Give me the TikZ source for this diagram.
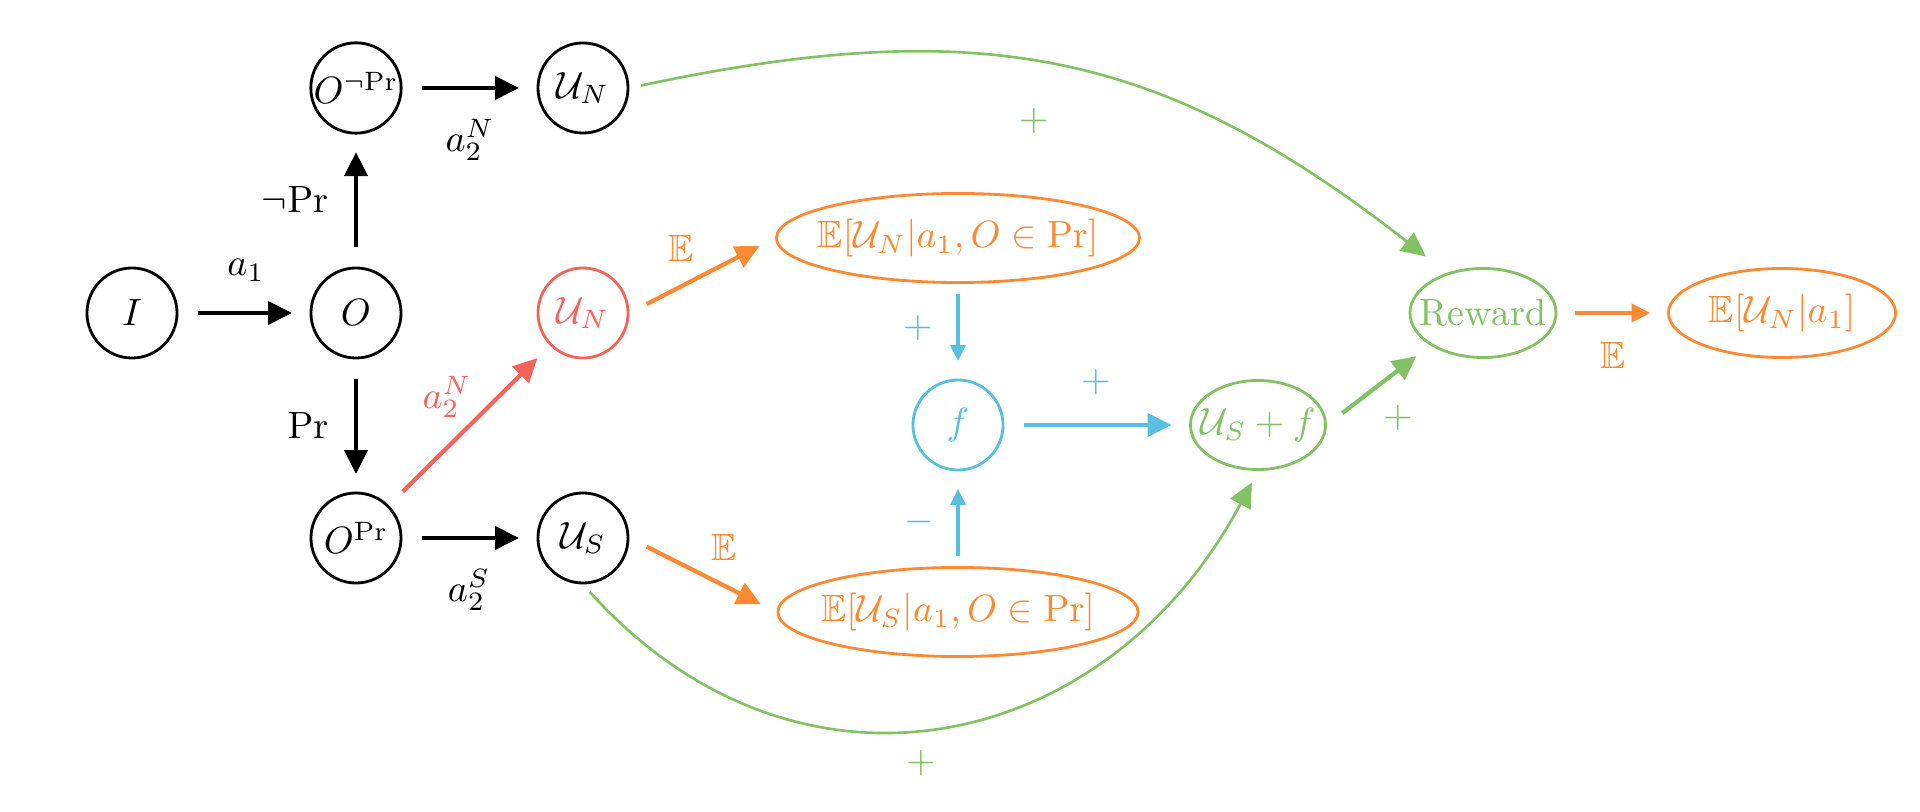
\documentclass[tikz,border=0pt]{standalone}
\usepackage{amssymb}
\usepackage{graphicx}
\usetikzlibrary{arrows.meta,shapes.geometric}
\definecolor{cred}{RGB}{245,100,90}
\definecolor{corange}{RGB}{253,138,50}
\definecolor{ccyan}{RGB}{88,192,222}
\definecolor{cgreen}{RGB}{130,193,100}
\newcommand{\bigtxt}[1]{\scalebox{1.08}{#1}}
\begin{document}
\begin{tikzpicture}[x=0.01cm,y=0.01cm,
  cnode/.style={circle,draw,thick,minimum size=0.9cm,inner sep=0pt},
  enode/.style={ellipse,draw,thick,inner xsep=-0.12cm,inner ysep=0pt,minimum height=0.89cm},
  bigarr/.style={-{Triangle[length=6.8pt,width=6.5pt]},line width=1.2pt,shorten <=5.5pt,shorten >=5pt},
  smallarr/.style={-{Triangle[length=4.5pt,width=4.3pt]},line width=0.9pt,shorten <=3pt,shorten >=5pt},
  curvearr/.style={-{Triangle[length=7pt,width=6.5pt]},line width=0.75pt},
  lab/.style={inner sep=0pt}
]
\useasboundingbox (0,0) rectangle (1920,812);
\node[cnode] (I) at (132,499) {\bigtxt{$I$}};
\node[cnode] (O) at (356,499) {\bigtxt{$O$}};
\node[cnode] (ONP) at (356,724) {\bigtxt{$O^{\neg\mathrm{Pr}}$}};
\node[cnode] (UNt) at (583,724) {\bigtxt{$\mathcal{U}_N$}};
\node[cnode,cred] (UNr) at (583,499) {\bigtxt{$\mathcal{U}_N$}};
\node[cnode] (OP) at (356,274) {\bigtxt{$O^{\mathrm{Pr}}$}};
\node[cnode] (US) at (583,274) {\bigtxt{$\mathcal{U}_S$}};
\node[enode,corange,minimum width=3.6cm] (EN) at (958,574) {\bigtxt{$\mathbb{E}[\mathcal{U}_N|a_1,O\in\mathrm{Pr}]$}};
\node[enode,corange,minimum width=3.6cm] (ES) at (958,200) {\bigtxt{$\mathbb{E}[\mathcal{U}_S|a_1,O\in\mathrm{Pr}]$}};
\node[cnode,ccyan] (f) at (958,387) {\bigtxt{$f$}};
\node[enode,cgreen,minimum width=1.35cm] (USf) at (1258,387) {\bigtxt{$\mathcal{U}_S+f$}};
\node[enode,cgreen,minimum width=1.46cm] (Rew) at (1483,499) {\bigtxt{Reward}};
\node[enode,corange,minimum width=2.27cm] (EA) at (1782,499) {\bigtxt{$\mathbb{E}[\mathcal{U}_N|a_1]$}};

\draw[bigarr] (I) -- (O);
\draw[bigarr] (O) -- (ONP);
\draw[bigarr] (ONP) -- (UNt);
\draw[bigarr] (O) -- (OP);
\draw[bigarr] (OP) -- (US);
\draw[bigarr,cred] (OP) -- (UNr);
\draw[bigarr,corange] (UNr.east) -- (EN.west);
\draw[bigarr,corange] (US.east) -- (ES.west);
\draw[smallarr,ccyan] (EN) -- (f);
\draw[smallarr,ccyan] (ES) -- (f);
\draw[bigarr,ccyan] (f) -- (USf);
\draw[bigarr,cgreen] (USf.east) -- (Rew.south west);
\draw[-{Triangle[length=5.4pt,width=5.1pt]},line width=1.2pt,shorten <=5pt,shorten >=4.7pt,corange] (Rew) -- (EA);
\draw[curvearr,cgreen,shorten <=3.4pt,shorten >=7.5pt] (UNt.east) to[out=12,in=142,looseness=1.1] (Rew.132);
\draw[curvearr,cgreen,shorten <=2.8pt,shorten >=3.7pt] (US.south) to[out=-48,in=-118,looseness=1.2] (USf.south);

\node[lab] (la1) at (246,542) {\bigtxt{$a_1$}};
\node[lab] (lnpr) at (295,612) {\bigtxt{$\neg\mathrm{Pr}$}};
\node[lab] (la2n) at (470,672) {\bigtxt{$a_2^N$}};
\node[lab] (lpr) at (308,386) {\bigtxt{$\mathrm{Pr}$}};
\node[lab,cred] (la2nr) at (447,415) {\bigtxt{$a_2^N$}};
\node[lab] (la2s) at (469,222) {\bigtxt{$a_2^S$}};
\node[lab,corange] (lE1) at (681,564) {\bigtxt{$\mathbb{E}$}};
\node[lab,corange] (lE2) at (724,265) {\bigtxt{$\mathbb{E}$}};
\node[lab,ccyan] (lp1) at (918,484) {\bigtxt{$+$}};
\node[lab,ccyan] (lm1) at (919,290) {\bigtxt{$-$}};
\node[lab,ccyan] (lp2) at (1096,430) {\bigtxt{$+$}};
\node[lab,cgreen] (lp3) at (1398,394) {\bigtxt{$+$}};
\node[lab,corange] (lE3) at (1613,457) {\bigtxt{$\mathbb{E}$}};
\node[lab,cgreen] (lp4) at (1034,691) {\bigtxt{$+$}};
\node[lab,cgreen] (lp5) at (921,49) {\bigtxt{$+$}};
\end{tikzpicture}
\end{document}
